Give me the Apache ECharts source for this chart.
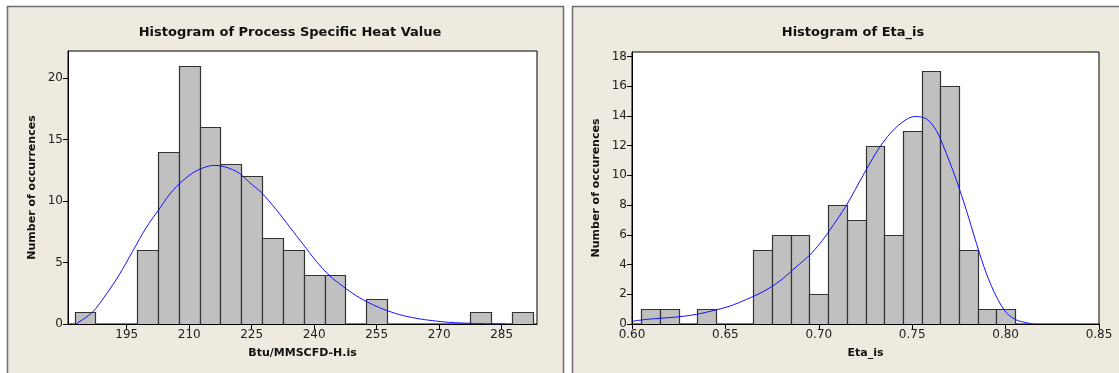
<!DOCTYPE html>
<html><head><meta charset="utf-8">
<script src="https://cdn.jsdelivr.net/npm/echarts@6/dist/echarts.min.js"></script>
<style>html,body{margin:0;padding:0;background:#fff}#c{width:1119px;height:373px}</style>
</head><body><div id="c"></div>
<script>
// ---- Left chart data ----
const leftTitle = 'Histogram of Process Specific Heat Value';
const leftXName = 'Btu/MMSCFD-H.is';
const leftYName = 'Number of occurrences';
const leftBinWidth = 5;
const leftBinCenters = [185,190,195,200,205,210,215,220,225,230,235,240,245,250,255,260,265,270,275,280,285,290];
const leftCounts     = [1,  0,  0,  6,  14, 21, 16, 13, 12, 7,  6,  4,  4,  0,  2,  0,  0,  0,  0,  1,  0,  1];
const leftXTicks = [195,210,225,240,255,270,285];
const leftYTicks = [0,5,10,15,20];
const leftCurveX = [182.8,186.8,190.0,193.2,196.4,199.6,202.8,205.2,207.6,210.8,213.2,216.0,218.8,222.0,224.5,227.3,230.9,234.1,237.3,240.5,243.7,246.9,250.1,253.3,256.5,260.5,264.5,268.5,272.5,278,286];
const leftCurveY = [0,0.97,2.38,4.0,5.9,7.8,9.35,10.5,11.4,12.27,12.68,12.9,12.76,12.27,11.5,10.7,9.3,7.9,6.5,5.1,3.93,3.06,2.3,1.7,1.22,0.76,0.46,0.27,0.13,0.05,0];

// ---- Right chart data ----
const rightTitle = 'Histogram of Eta_is';
const rightXName = 'Eta_is';
const rightYName = 'Number of occurences';
const rightBinWidth = 0.01;
const rightBinCenters = [0.61,0.62,0.63,0.64,0.65,0.66,0.67,0.68,0.69,0.70,0.71,0.72,0.73,0.74,0.75,0.76,0.77,0.78,0.79,0.80];
const rightCounts     = [1,   1,   0,   1,   0,   0,   5,   6,   6,   2,   8,   7,   12,  6,   13,  17,  16,  5,   1,   1];
const rightXTicks = [0.60,0.65,0.70,0.75,0.80,0.85];
const rightYTicks = [0,2,4,6,8,10,12,14,16,18];
const rightCurveX = [0.600,0.6077,0.6166,0.6255,0.6345,0.6434,0.6523,0.6612,0.6701,0.6791,0.6880,0.6951,0.7005,0.7058,0.7148,0.7237,0.7326,0.7415,0.7513,0.7576,0.7630,0.7683,0.7737,0.7790,0.7844,0.7897,0.7951,0.8004,0.8058,0.8111,0.8146];
const rightCurveY = [0.18,0.31,0.40,0.49,0.65,0.9,1.2,1.65,2.17,2.89,3.85,4.63,5.4,6.3,7.99,10.0,11.9,13.24,13.96,13.8,13.0,11.46,9.66,7.65,5.42,3.4,1.83,0.76,0.27,0.09,0.0];

const FONT = 'DejaVu Sans';
const chart = echarts.init(document.getElementById('c'), null, {renderer:'canvas'});

function histItem(bw){
  return function(params, api){
    const c = api.value(0), v = api.value(1);
    if (!v) return null;
    const p0 = api.coord([c - bw/2, v]);
    const p1 = api.coord([c + bw/2, 0]);
    return {type:'rect',
      shape:{x:Math.round(p0[0])+0.5, y:Math.round(p0[1])+0.5, width:Math.round(p1[0])-Math.round(p0[0]), height:Math.round(p1[1])-Math.round(p0[1])},
      style:{fill:'#c0c0c0', stroke:'#333333', lineWidth:1.2}};
  };
}
function xAxisCfg(gi, min, max, ticks, name, fmt){
  return {type:'value', gridIndex:gi, min:min, max:max,
    name:name, nameLocation:'middle', nameGap:24,
    nameTextStyle:{fontFamily:FONT, fontWeight:'bold', fontSize:11, color:'#111'},
    axisLine:{show:true, onZero:false, lineStyle:{color:'#000', width:1}},
    axisTick:{show:true, inside:false, length:5, customValues:ticks, lineStyle:{color:'#000'}},
    axisLabel:{customValues:ticks, formatter:fmt, fontFamily:FONT, fontSize:12, color:'#222', margin:5},
    splitLine:{show:false}};
}
function yAxisCfg(gi, max, ticks, name){
  return {type:'value', gridIndex:gi, min:0, max:max,
    name:name, nameLocation:'middle', nameGap:30, nameRotate:90,
    nameTextStyle:{fontFamily:FONT, fontWeight:'bold', fontSize:11, color:'#111'},
    axisLine:{show:true, lineStyle:{color:'#000', width:1}},
    axisTick:{show:true, inside:false, length:5, customValues:ticks, lineStyle:{color:'#000'}},
    axisLabel:{customValues:ticks, fontFamily:FONT, fontSize:12, color:'#222', margin:5},
    splitLine:{show:false}};
}

chart.setOption({
  backgroundColor:'#ffffff',
  animation:false,
  graphic:[
    {type:'rect', z:-10, shape:{x:7.5, y:6.5, width:556, height:380}, style:{fill:'#eeeae0', stroke:'#6e6e6e', lineWidth:1.5}},
    {type:'rect', z:-10, shape:{x:572.5, y:6.5, width:560, height:380}, style:{fill:'#eeeae0', stroke:'#6e6e6e', lineWidth:1.5}}
  ],
  title:[
    {text:leftTitle, left:285, top:21, textAlign:'center', textStyle:{fontFamily:FONT, fontWeight:'bold', fontSize:13, color:'#111'}},
    {text:rightTitle, left:848, top:21, textAlign:'center', textStyle:{fontFamily:FONT, fontWeight:'bold', fontSize:13, color:'#111'}}
  ],
  grid:[
    {left:68, top:51, width:469, height:273, show:true, backgroundColor:'#fff', borderColor:'#000', borderWidth:1},
    {left:632, top:52, width:467, height:272, show:true, backgroundColor:'#fff', borderColor:'#000', borderWidth:1}
  ],
  xAxis:[
    xAxisCfg(0, 180.9, 293.5, leftXTicks, leftXName, v => String(Math.round(v))),
    xAxisCfg(1, 0.60, 0.85, rightXTicks, rightXName, v => v.toFixed(2))
  ],
  yAxis:[
    yAxisCfg(0, 22.2, leftYTicks, leftYName),
    yAxisCfg(1, 18.3, rightYTicks, rightYName)
  ],
  series:[
    {type:'custom', xAxisIndex:0, yAxisIndex:0, renderItem:histItem(leftBinWidth),
     data:leftBinCenters.map((c,i)=>[c,leftCounts[i]]), clip:true},
    {type:'line', xAxisIndex:0, yAxisIndex:0, smooth:0.3, showSymbol:false, z:5,
     lineStyle:{color:'#1010ff', width:1}, data:leftCurveX.map((x,i)=>[x,leftCurveY[i]])},
    {type:'custom', xAxisIndex:1, yAxisIndex:1, renderItem:histItem(rightBinWidth),
     data:rightBinCenters.map((c,i)=>[c,rightCounts[i]]), clip:true},
    {type:'line', xAxisIndex:1, yAxisIndex:1, smooth:0.3, showSymbol:false, z:5,
     lineStyle:{color:'#1010ff', width:1}, data:rightCurveX.map((x,i)=>[x,rightCurveY[i]])}
  ]
});
</script></body></html>
